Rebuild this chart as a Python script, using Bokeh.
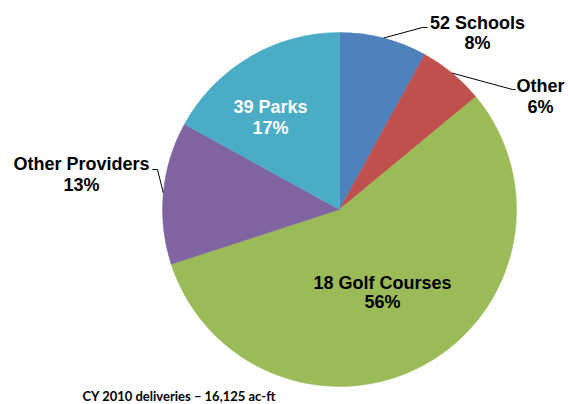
import math
from bokeh.plotting import figure
from bokeh.models import Range1d, ColumnDataSource
from bokeh.core.properties import value
from bokeh.embed import file_html
from bokeh.resources import INLINE

# ---- data ----
categories = ["52 Schools", "Other", "18 Golf Courses", "Other Providers", "39 Parks"]
shares = [8, 6, 56, 13, 17]
colors = ["#4F81BD", "#C0504D", "#9BBB59", "#8064A2", "#4BACC6"]
footnote = "CY 2010 deliveries \u2013 16,125 ac-ft"

# ---- layout (image pixel coordinates; y flipped below) ----
W, H = 568, 404
def Y(yimg):
    return H - yimg

cx, cy, r = 339, Y(209), 177

p = figure(width=W, height=H, output_backend="svg", toolbar_location=None,
           x_range=Range1d(0, W), y_range=Range1d(0, H), min_border=0)
p.axis.visible = False
p.xgrid.visible = False
p.ygrid.visible = False
p.outline_line_color = None
p.background_fill_color = "white"
p.border_fill_color = "white"

total = float(sum(shares))
starts, ends, mids = [], [], []
cum = 0.0
for s in shares:
    a0 = math.pi / 2 - 2 * math.pi * cum / total
    cum += s
    a1 = math.pi / 2 - 2 * math.pi * cum / total
    starts.append(a0)
    ends.append(a1)
    mids.append((a0 + a1) / 2)

src = ColumnDataSource(dict(start=starts, end=ends, color=colors))
p.wedge(x=cx, y=cy, radius=r, start_angle="start", end_angle="end",
        direction="clock", fill_color="color", line_color="color",
        line_width=0.5, source=src)

# label positions (image coords): (x, line1 y, line2 y, color)
label_pos = [
    (477, 22, 42, "black"),
    (540, 85, 106, "black"),
    (382, 282, 301, "black"),
    (81, 163, 184, "black"),
    (270, 106, 127, "white"),
]
font = value("Liberation Sans")
for i, (lx, ly1, ly2, tc) in enumerate(label_pos):
    p.text(x=[lx, lx], y=[Y(ly1), Y(ly2)],
           text=[categories[i], f"{shares[i]}%"],
           text_font=font, text_font_style="bold", text_font_size="18px",
           text_color=tc, text_align="center", text_baseline="middle")

# leader lines: from slice mid-edge to elbow
elbows = {0: [(422, 27), (427, 27)], 1: [(512, 89), (515, 89)], 3: [(157, 169), (152, 169)]}
for i, pts in elbows.items():
    ex = cx + r * math.cos(mids[i])
    ey = cy + r * math.sin(mids[i])
    xs = [ex] + [pt[0] for pt in pts]
    ys = [ey] + [Y(pt[1]) for pt in pts]
    p.line(xs, ys, line_color="black", line_width=1)

p.text(x=[82], y=[Y(395)], text=[footnote], text_font=value("Lato"),
       text_font_style="bold", text_font_size="13px", text_color="black",
       text_align="left", text_baseline="middle")

open("out.html", "w").write(file_html(p, INLINE))
